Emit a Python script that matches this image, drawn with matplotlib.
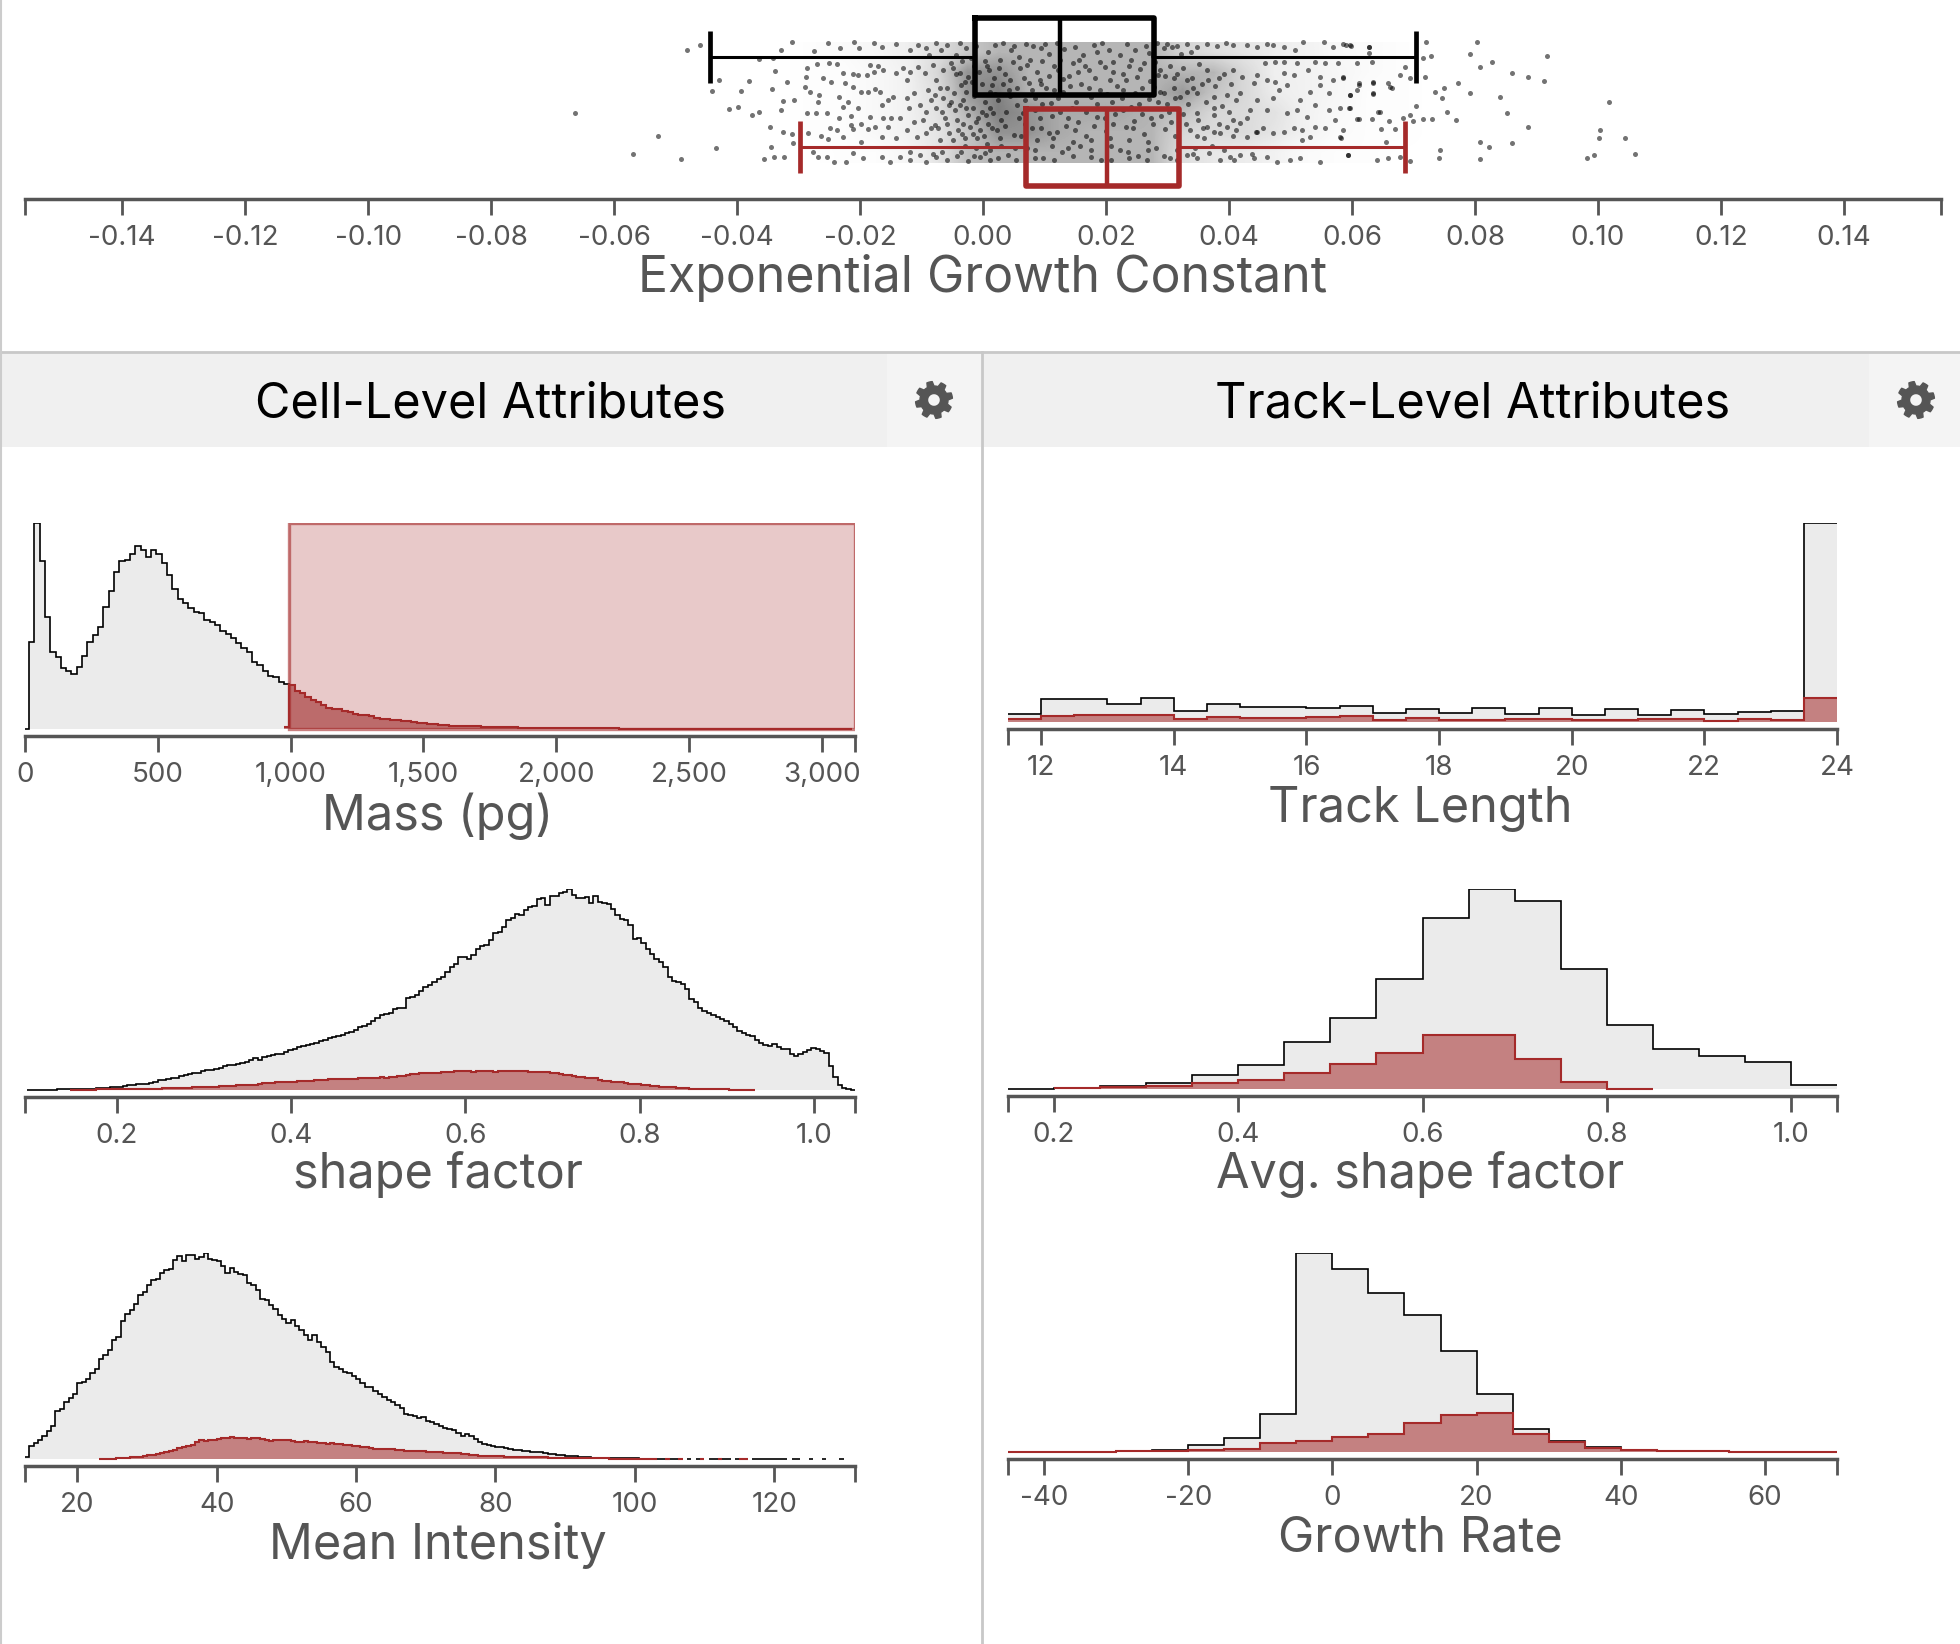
import numpy as np
import matplotlib
matplotlib.use("Agg")
import matplotlib.pyplot as plt
from matplotlib.patches import Rectangle, PathPatch
from matplotlib.path import Path
from matplotlib.lines import Line2D
from matplotlib.transforms import IdentityTransform

W, H = 1960, 1644
plt.rcParams['font.family'] = ['Inter', 'DejaVu Sans']

# growth constant strip: (x in 1e-4 units, jitter position of the dot)
strip_left = [
    (-664,113),(-461,45),(-481,50),(-430,80),(-440,91),(-394,91),(-381,81),(-413,109),(-398,107),(-375,115),
    (-364,112),(-528,136),(-569,154),(-491,159),(-435,148),(-356,159),(-340,157),(-323,157),(-344,147),(-347,127),
    (-326,132),(-311,134),(-309,143),(-328,110),(-325,101),(-307,100),(-287,113),(-343,89),(-319,82),(-338,71),
    (-364,59),(-341,58),(-328,50),(-311,42),(-275,51),(-252,43),(-233,48),(-210,42),(-202,48),(-287,68),
    (-288,77),(-270,64),(-250,63),(-238,64),(-260,78),(-248,82),(-227,73),(-211,74),(-225,83),(-212,87),
    (-290,87),(-281,92),(-266,95),(-268,102),(-234,97),(-219,102),(-227,107),(-203,108),(-271,113),(-254,113),
    (-234,118),(-214,116),(-184,117),(-215,125),(-198,124),(-249,128),(-238,130),(-211,129),(-284,133),(-263,136),
    (-252,139),(-227,137),(-187,129),(-176,127),(-276,152),(-268,157),(-253,157),(-243,162),(-223,162),(-212,153),
    (-195,158),(-198,142),(-165,137),(-154,127),(-163,118),(-149,118),(-198,92),(-187,92),(-176,89),(-168,92),
    (-184,65),(-170,66),(-189,75),(-178,72),(-162,70),(-203,75),(-154,100),(-146,97),(-165,105),(-178,43),
    (-165,47),(-141,44),(-119,50),(-105,45),(-92,48),(-76,43),(-59,45),(-37,43),(-27,48),(-165,157),
    (-151,162),(-135,157),(-119,160),(-103,155),(-92,162),(-76,157),(-59,160),(-43,156),(-24,161),(-5,157),(11,160),
]
strip_dense_left = [
    (-141,73),(-130,68),(-119,72),(-124,80),(-105,67),(-95,73),(-81,65),(-65,70),(-49,68),(-38,73),(-30,82),
    (-76,80),(-59,88),(-89,90),(-78,95),(-65,98),(-47,93),(-27,92),(-124,98),(-113,93),(-103,105),(-121,108),
    (-92,112),(-76,108),(-56,105),(-38,105),(-16,108),(-135,118),(-113,122),(-97,120),(-78,125),(-62,118),
    (-43,120),(-24,115),(-2,112),(17,113),(-124,130),(-108,137),(-92,133),(-73,128),(-56,133),(-40,130),
    (-21,127),(-5,130),(14,128),(-141,138),(-70,140),(-48,140),(-29,138),(-10,138),
]
strip_center = [
    (20,45),(45,50),(70,44),(95,48),(120,43),(150,47),(180,45),(205,50),(235,44),(265,46),(295,48),
    (10,70),(35,74),(60,68),(88,72),(115,66),(140,76),(172,70),(198,67),(228,74),(255,69),(285,75),
    (15,85),(42,90),(75,83),(102,88),(130,92),(160,84),(190,90),(218,86),(248,93),(278,87),
    (25,100),(55,105),(85,98),(110,103),(145,108),(175,97),(210,102),(240,107),(270,99),(300,104),
    (5,115),(30,120),(65,113),(92,118),(125,112),(155,122),(185,117),(215,114),(245,121),(290,116),
    (22,130),(50,135),(80,128),(108,133),(135,126),(168,136),(200,131),(232,127),(262,134),(296,129),
    (12,150),(40,155),(72,148),(98,158),(128,152),(158,146),(192,160),(222,150),(252,156),(282,148),
]
# the thick middle of the cloud, dots overlap here so these are only approximate
strip_thick = [
    (-12,46),(8,52),(33,43),(58,57),(82,46),(108,54),(132,49),(163,55),(193,43),(222,55),(248,50),(277,56),(308,47),(322,54),
    (-88,55),(-68,50),(-44,55),(-20,58),(3,61),(28,60),(51,46),(76,60),(101,44),(126,60),(156,60),(186,52),(212,62),(240,60),(270,53),(338,52),
    (-52,63),(-34,61),(-14,66),(6,66),(26,68),(48,62),(72,65),(96,61),(122,70),(146,63),(166,66),(190,62),(212,72),(238,66),(262,63),(280,62),(304,66),(326,68),(352,64),
    (-44,74),(-24,77),(-7,72),(18,78),(44,80),(66,78),(92,80),(108,76),(130,79),(154,72),(182,78),(206,80),(232,80),(250,77),(272,81),(296,76),(316,74),(340,78),(366,80),(392,74),
    (-70,88),(-35,85),(-18,82),(-1,84),(12,92),(32,84),(56,88),(80,90),(94,84),(116,90),(142,86),(172,88),(202,94),(228,90),(258,88),(288,92),(310,88),(332,92),(356,84),(378,86),(404,84),
    (-85,100),(-52,102),(-32,100),(-14,96),(4,102),(20,94),(44,96),(68,100),(96,104),(122,98),(152,102),(186,104),(226,98),(254,104),(284,102),(312,98),(334,104),(362,102),(388,106),(412,100),
    (-66,112),(-46,110),(-28,108),(-8,118),(12,108),(38,112),(58,118),(84,110),(112,116),(138,118),(168,112),(198,118),(228,110),(258,114),(274,118),(302,112),(326,114),(350,120),(376,108),(400,112),(430,118),
    (-85,128),(-58,124),(-32,124),(-12,122),(8,124),(36,126),(68,124),(94,128),(120,132),(150,130),(180,126),(212,124),(244,128),(276,124),(306,122),(330,124),(358,128),(384,124),(412,130),
    (-34,134),(-16,134),(2,136),(28,138),(62,136),(88,140),(114,138),(146,142),(176,140),(206,138),(238,140),(268,142),(312,136),(348,136),(376,132),(406,136),(444,132),
    (-30,146),(-12,148),(6,144),(30,146),(52,148),(84,150),(112,146),(138,148),(176,150),(208,146),(236,152),(268,150),(294,156),(316,150),(344,148),(372,146),(392,150),
    (-118,152),(-82,154),(-66,152),(-36,152),(-14,156),(4,153),(24,158),(54,160),(84,158),(116,160),(146,156),(176,157),(208,160),(238,158),(266,160),(304,158),(316,160),(342,154),(408,160),(438,154),
]
strip_right_mid = [
    (627,47),(627,53),(635,82),(659,83),(665,88),(635,93),(597,95),(611,85),(586,78),(570,80),
    (548,85),(532,92),(562,93),(581,108),(597,108),(562,110),(540,105),(643,112),(611,119),(573,120),
    (581,137),(556,128),(540,127),(518,130),(532,137),(505,128),(489,132),(518,140),(594,155),(548,162),
    (516,158),(500,160),(597,45),(586,44),(570,47),(554,42),(521,42),(508,50),(489,47),(472,45),
    (462,44),(445,47),(429,45),(407,45),(396,43),(380,46),(364,44),(348,47),(331,44),(315,46),
    (299,44),(283,43),(632,62),(608,63),(578,63),(556,63),(540,62),(510,63),(489,62),(475,62),
    (459,63),(548,77),(529,70),(505,75),(489,73),(475,82),(445,75),(462,80),(440,83),(421,77),
    (407,70),(383,78),(364,70),(342,88),(331,80),(310,78),(288,70),(294,93),(321,97),(348,93),
    (375,97),(397,95),(418,93),(445,100),(481,90),(494,85),(472,98),(516,100),(510,110),(527,117),
    (494,113),(462,110),(434,110),(407,120),(397,127),(418,123),(456,128),(445,132),(472,133),(364,127),
    (348,113),(337,130),(375,115),(386,133),(359,138),(429,137),(331,155),(348,158),(367,153),(386,160),
    (402,157),(418,155),(440,158),(462,157),(478,162),
]
strip_right_out = [
    (720,42),(804,42),(628,47),(591,45),(599,46),(728,56),(792,54),(918,56),(716,58),(828,62),
    (686,67),(808,67),(860,73),(886,77),(913,81),(719,77),(694,78),(678,75),(585,77),(773,83),
    (735,92),(749,88),(792,93),(747,98),(840,97),(1018,102),(662,87),(635,83),(612,83),(609,90),
    (635,94),(597,95),(596,108),(705,106),(646,112),(755,112),(852,113),(694,115),(683,118),(715,119),
    (731,119),(769,120),(700,121),(633,119),(609,119),(661,121),(887,127),(1003,130),(647,129),(670,129),
    (585,130),(1002,138),(1044,138),(583,138),(808,142),(823,147),(861,143),(656,142),(743,150),(994,155),
    (982,158),(1061,154),(594,155),(742,158),(809,159),(659,158),(640,160),(678,157),(694,161),
]

# box stats, growth constant
all_box = [-0.0444, -0.0013, 0.0125, 0.0278, 0.0704]
sel_box = [-0.0298, 0.0070, 0.0202, 0.0319, 0.0686]

# grey tone behind the dots, rows top to bottom, columns every 0.005 from -0.04
strip_tone = [
    [0,0,.01,.02,.04,.07,.12,.18,.22,.22,.22,.22,.22,.22,.15,.12,.10,.08,.06,.03,.02,.01,0,0],
    [0,0,.01,.01,.03,.06,.14,.28,.28,.22,.22,.22,.22,.22,.22,.22,.14,.07,.06,.04,.02,.01,0,0],
    [0,0,.01,.01,.03,.06,.12,.27,.32,.22,.22,.22,.22,.22,.27,.19,.14,.08,.06,.04,.01,.01,0,0],
    [0,0,.01,.01,.03,.06,.11,.22,.32,.28,.24,.24,.24,.22,.20,.14,.13,.11,.06,.03,.01,.01,0,0],
    [0,0,.01,.01,.03,.06,.10,.18,.28,.28,.24,.22,.22,.22,.14,.13,.13,.10,.06,.02,.01,.01,0,0],
    [0,0,0,.01,.01,.04,.10,.20,.22,.22,.22,.22,.22,.22,.12,.09,.08,.06,.02,.01,.01,0,0,0],
]
tone_edges = [-0.04, 0.08]

# cell level histograms (bin counts, scale is arbitrary)
mass_start, mass_width = -5, 20
mass_all = [
    1,260,617,503,335,230,216,182,174,166,187,220,261,282,305,365,412,469,503,506,
    524,549,537,515,537,525,496,462,420,389,376,362,349,347,327,321,311,295,284,274,
    259,242,231,202,192,174,160,156,141,135,131,115,107,95,87,80,73,63,61,61,
    53,51,46,41,41,39,33,31,31,27,26,24,23,21,17,18,16,14,12,12,
    10,10,9,9,8,8,7,7,6,6,5,5,5,4,4,4,4,3,3,3,
    3,3,3,2,2,2,2,2,2,2,2,2,1,1,1,1,1,1,1,1,
    1,1,1,1,1,1,1,1,1,1,1,1,1,1,1,1,1,1,1,1,
    1,1,1,1,1,1,1,1,1,1,1,1,1,1,1,1
]
mass_sel = [7] + mass_all[50:]
mass_sel_start = mass_start + 49 * mass_width
mass_brush = [995, 3125]

shape_start, shape_width = 0.097, 0.005
shape_all = [
    1,1,1,1,1,1,1,2,2,2, 2,3,3,3,4,4,5,6,7,8,
    10,10,12,14,15,17,19,19,22,25, 29,29,32,36,36,41,45,48,50,52,
    57,60,60,62,64,72,75,75,78,80, 83,88,94,90,98,100,104,108,107,112,
    118,122,128,132,135,138,140,145,150,155, 158,160,165,170,172,178,188,190,195,205,
    215,222,225,228,240,245,245,275,278,282, 295,305,312,320,330,335,350,365,375,395,
    395,390,402,420,428,432,445,468,470,485, 505,512,525,520,535,545,548,568,572,550,
    578,578,585,590,598,580,570,570,575,555, 577,560,555,552,538,520,510,505,490,450,
    452,438,420,405,390,380,365,335,325,322, 315,300,270,262,245,235,228,222,218,212,
    205,195,187,175,170,165,160,150,140,135, 132,138,128,122,122,108,100,106,112,118,
    124,122,116,110,70,40,15,5,2,1
]
shape_sel_start = 0.147
shape_sel = [
    1,1,1,1,1,1,2,2,2,2, 2,2,2,2,3,3,3,3,4,4,
    4,5,5,5,6,6,6,7,8,8, 9,9,10,10,11,12,12,13,14,14,
    15,15,16,19,21,20,21,23,25,25, 24,25,27,27,28,28,30,30,31,32,
    32,33,33,34,33,33,35,36,36,37, 37,38,37,39,40,42,43,45,47,48,
    50,51,52,52,52,53,54,55,56,56, 58,56,54,56,57,56,56,55,56,56,
    56,56,57,56,56,55,55,54,54,53, 52,50,48,46,44,42,40,38,37,36,
    35,30,28,26,25,24,23,20,19,17, 17,15,14,12,11,10,9,8,8,7,
    6,5,4,4,3,3,3,2,2,2, 2,1,1,1,1,1,1
]

intensity_start, intensity_width = 12.5, 0.625
intensity_all = [
    7,38,47,56,70,85,100,145,150,172, 183,195,227,230,240,257,270,300,310,325,
    357,365,412,435,445,465,490,500,520,535, 540,557,565,570,595,607,592,610,610,600,
    605,617,600,595,592,577,557,572,560,555, 550,527,520,505,480,477,462,450,432,418,
    407,417,397,387,370,355,370,350,335,320, 290,275,270,262,257,250,240,228,217,215,
    205,195,185,178,170,162,152,135,132,130, 122,125,115,110,105,100,92,90,88,78,
    70,75,68,60,50,45,42,38,36,35, 33,30,27,28,25,23,22,20,20,18,
    16,15,13,12,10,10,8,7,6,5, 4,4,3,3,3,2,2,2,2,2,
    2,1,1,1,1,1,1,1,1,1, 1,0,1,0,1,1,0,1,1,0,
    1,1,0,1,1,1,0,1,1,1, 1,1,1,1,1,0,1,1,0,0,
    1,0,0,1,0,0,0,1,0,0
]
intensity_sel_start = 23.125
intensity_sel = [
    1,1,1,1,2,2,2,5,6,7,9,11,13,15,17,20,24,27,32,35,38,41,50,57,55,57,56,60,63,64,
    65,64,63,62,61,62,63,60,57,55,58,56,58,56,55,52,52,53,51,50,49,47,45,47,46,44,42,43,40,38,
    36,35,32,31,31,30,29,29,27,26,25,24,23,23,24,22,22,21,20,19,18,18,17,15,14,13,11,10,9,9,
    9,8,8,7,7,7,6,6,6,6,5,5,5,4,4,3,3,3,3,2,2,2,2,2,2,2,2,1,1,1,1,1,1,1,1,1,1,1,
    0,0,1,0,0,1,0,0,0,0,1,0,0,0,1,0,0,0,0,1,1
]

# track level histograms
track_start, track_width = 11.5, 0.5
track_all = [23,69,69,55,73,34,54,44,44,43,48,27,38,26,43,23,43,20,39,21,37,24,31,34,598]
track_sel = [8,18,20,21,20,10,16,13,13,15,17,5,13,7,7,8,8,7,7,9,9,4,8,7,72]

avg_shape_start, avg_shape_width = 0.15, 0.05
avg_shape_all = [1,2,8,19,43,72,140,213,330,512,599,564,360,193,120,99,81,13]
avg_shape_sel = [0,4,5,10,17,28,48,74,109,162,161,90,21,1,0,0,0,0]

growth_start, growth_width = -45, 5
growth_all = [1,0.5,1,3,6,21,42,115,598,549,478,413,303,173,68,33,15,7,4,3,1,1,1]
growth_sel = [1,1,1,2,3,6,8,26,33,45,54,87,110,116,54,30,13,7,4,4,1,1,1]

top_ticks = [-0.14,-0.12,-0.10,-0.08,-0.06,-0.04,-0.02,0.00,0.02,0.04,0.06,0.08,0.10,0.12,0.14]
top_labels = ['%.2f' % t for t in top_ticks]
mass_ticks = [0, 500, 1000, 1500, 2000, 2500, 3000]
mass_labels = ['0', '500', '1,000', '1,500', '2,000', '2,500', '3,000']
shape_ticks = [0.2, 0.4, 0.6, 0.8, 1.0]
intensity_ticks = [20, 40, 60, 80, 100, 120]
track_ticks = [12, 14, 16, 18, 20, 22, 24]
growth_ticks = [-40, -20, 0, 20, 40, 60]

BROWN = '#a52a2a'
AXC = '#555555'
TICK_SIZE = 20
LABEL_SIZE = 35


def px_axes(x0, y0, x1, y1):
    return fig.add_axes([x0 / W, 1 - y1 / H, (x1 - x0) / W, (y1 - y0) / H])


def style_axis(ax, xlim, ticks, labels):
    for s in ['top', 'left', 'right']:
        ax.spines[s].set_visible(False)
    ax.spines['bottom'].set_color(AXC)
    ax.spines['bottom'].set_linewidth(2.5)
    ax.set_xlim(*xlim)
    ax.set_yticks([])
    ax.set_xticks(ticks)
    ax.set_xticklabels(labels)
    ax.set_xticks(list(xlim), minor=True)
    ax.tick_params(axis='x', which='both', length=11.5, width=2, color=AXC,
                   labelcolor=AXC, labelsize=TICK_SIZE, pad=7.5)
    ax.patch.set_alpha(0)


def hist_panel(rect, xlim, ticks, labels, all_vals, start, width, sel_vals, sel_start):
    # rect = left, top, right, axis line (pixels)
    ax = px_axes(*rect)
    gap = 7
    top = max(all_vals)
    ax.set_ylim(-gap * top / (rect[3] - rect[1] - gap), top)
    edges = start + width * np.arange(len(all_vals) + 1)
    vals = np.array(all_vals, dtype=float)
    ax.stairs(vals, edges, fill=True, color='#ebebeb', lw=0)
    ax.stairs(np.where(vals == 0, np.nan, vals), edges, baseline=None, color='black', lw=1.2)
    sel_edges = sel_start + width * np.arange(len(sel_vals) + 1)
    sel = np.array(sel_vals, dtype=float)
    ax.stairs(sel, sel_edges, fill=True, color=BROWN, alpha=0.55, lw=0)
    ax.stairs(np.where(sel == 0, np.nan, sel), sel_edges, baseline=None, color=BROWN, lw=1.5)
    style_axis(ax, xlim, ticks, labels)
    return ax


def axis_label(x, y, text, size=LABEL_SIZE):
    fig.text(x / W, 1 - y / H, text, ha='center', va='center', color=AXC, fontsize=size)


def gear(cx, cy, r_out=18.5, r_in=14, r_hole=6.5, teeth=8):
    # settings cog, solid with a round hole, in pixels
    ang = np.linspace(0, 2 * np.pi, teeth * 8, endpoint=False) + np.pi / teeth / 4
    rad = np.where((np.arange(teeth * 8) % 8) < 4, r_out, r_in)
    outer = np.column_stack([cx + rad * np.cos(ang), (H - cy) + rad * np.sin(ang)])
    t = np.linspace(2 * np.pi, 0, 30, endpoint=False)
    hole = np.column_stack([cx + r_hole * np.cos(t), (H - cy) + r_hole * np.sin(t)])
    verts = np.vstack([outer, outer[:1], hole, hole[:1]])
    codes = ([Path.MOVETO] + [Path.LINETO] * (len(outer) - 1) + [Path.CLOSEPOLY]
             + [Path.MOVETO] + [Path.LINETO] * (len(hole) - 1) + [Path.CLOSEPOLY])
    fig.add_artist(PathPatch(Path(verts, codes), transform=IdentityTransform(),
                             facecolor=AXC, edgecolor=AXC, lw=1, joinstyle='round'))


fig = plt.figure(figsize=(W / 100, H / 100), dpi=100, facecolor='white')

# panel chrome
for bx0, bx1, tx, label, gx in [(0, 981, 490, 'Cell-Level Attributes', 934),
                                (983, 1960, 1473, 'Track-Level Attributes', 1916)]:
    fig.add_artist(Rectangle((bx0 / W, 1 - 447 / H), (bx1 - bx0) / W, 94 / H,
                             transform=fig.transFigure, color='#f0f0f0', lw=0))
    fig.add_artist(Rectangle(((gx - 47) / W, 1 - 447 / H), (bx1 - gx + 47) / W, 94 / H,
                             transform=fig.transFigure, color='#f4f4f4', lw=0))
    fig.text(tx / W, 1 - 404 / H, label, ha='center', va='center', color='black', fontsize=35)
    gear(gx, 400)
fig.add_artist(Line2D([0, 1], [1 - 352 / H] * 2, color='#c8c8c8', lw=2))
fig.add_artist(Line2D([982 / W] * 2, [0, 1 - 352 / H], color='#c8c8c8', lw=2))
fig.add_artist(Line2D([1 / W] * 2, [0, 1], color='#cccccc', lw=1.5))

# strip + boxes
strip = np.array(strip_left + strip_dense_left + strip_center + strip_thick + strip_right_mid + strip_right_out)
ax = px_axes(25, 0, 1941, 199)
ax.imshow(strip_tone, cmap='Greys', vmin=0, vmax=0.55, interpolation='bilinear', aspect='auto',
          extent=[tone_edges[0], tone_edges[1], 163, 42], zorder=1)
ax.scatter(strip[:, 0] / 1e4, strip[:, 1], s=13, color='black', alpha=0.55, lw=0, zorder=2)
for stats, pos, col in [(all_box, 57, 'black'), (sel_box, 147.5, BROWN)]:
    bs = [dict(whislo=stats[0], q1=stats[1], med=stats[2], q3=stats[3], whishi=stats[4], fliers=[])]
    ax.bxp(bs, positions=[pos], widths=[77], capwidths=[52], orientation='horizontal',
           showfliers=False, manage_ticks=False,
           boxprops=dict(color=col, lw=4),
           medianprops=dict(color=col, lw=3.2, solid_capstyle='butt'),
           whiskerprops=dict(color=col, lw=2.2),
           capprops=dict(color=col, lw=3.4, solid_capstyle='butt'), zorder=3)
style_axis(ax, (-0.1558, 0.1558), top_ticks, top_labels)
ax.set_ylim(199, 0)
axis_label(983, 278, 'Exponential Growth Constant', size=36)

# cell level
ax = hist_panel((25, 523, 855, 736), (0, 3125), mass_ticks, mass_labels,
                mass_all, mass_start, mass_width, mass_sel, mass_sel_start)
ax.add_patch(Rectangle((mass_brush[0], 0), mass_brush[1] - mass_brush[0], max(mass_all),
                       facecolor=BROWN, edgecolor='none', alpha=0.25, zorder=3))
ax.add_patch(Rectangle((mass_brush[0], 0), mass_brush[1] - mass_brush[0], max(mass_all),
                       facecolor='none', edgecolor=BROWN, alpha=0.6, lw=2.4, zorder=3))
axis_label(438, 816, 'Mass (pg)')

hist_panel((25, 889, 855, 1097), (0.095, 1.047), shape_ticks, ['%.1f' % t for t in shape_ticks],
           shape_all, shape_start, shape_width, shape_sel, shape_sel_start)
axis_label(438, 1175, 'shape factor')

hist_panel((25, 1253, 855, 1466), (12.5, 131.6), intensity_ticks, [str(t) for t in intensity_ticks],
           intensity_all, intensity_start, intensity_width, intensity_sel, intensity_sel_start)
axis_label(438, 1545, 'Mean Intensity')

# track level
hist_panel((1008, 523, 1837, 729), (11.5, 24), track_ticks, [str(t) for t in track_ticks],
           track_all, track_start, track_width, track_sel, track_start)
axis_label(1420, 809, 'Track Length')

hist_panel((1008, 889, 1837, 1096), (0.15, 1.05), shape_ticks, ['%.1f' % t for t in shape_ticks],
           avg_shape_all, avg_shape_start, avg_shape_width, avg_shape_sel, avg_shape_start)
axis_label(1420, 1175, 'Avg. shape factor')

hist_panel((1008, 1253, 1837, 1459), (-45, 70), growth_ticks, [str(t) for t in growth_ticks],
           growth_all, growth_start, growth_width, growth_sel, growth_start)
axis_label(1420, 1538, 'Growth Rate')

fig.savefig('out.png', dpi=100)
